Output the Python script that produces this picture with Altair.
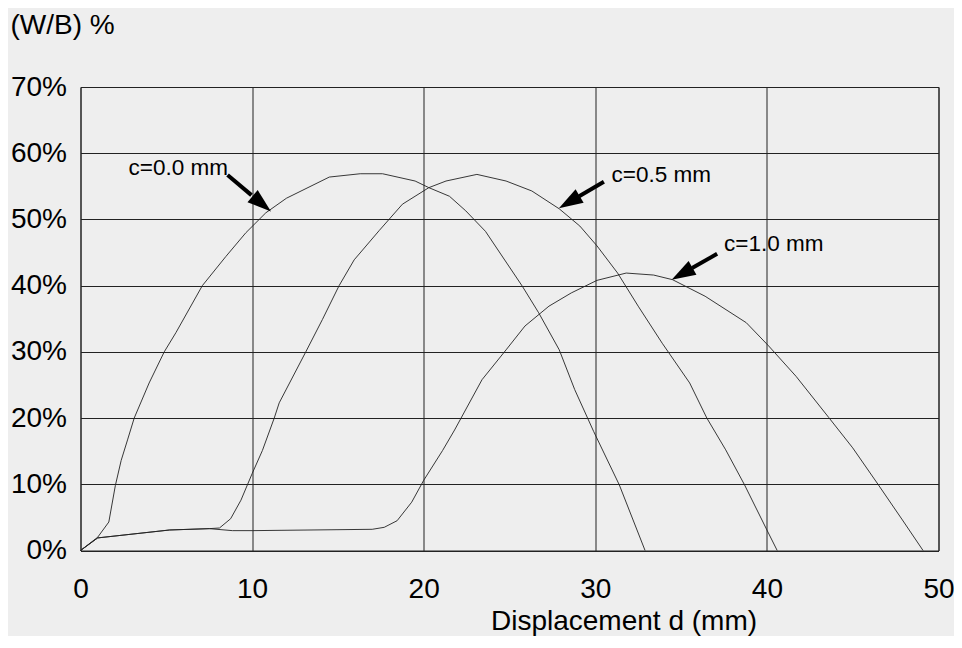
import math
import altair as alt
import pandas as pd

# ---- series data (displacement d in mm, W/B in %) ----
d_c00 = [0, 1.0, 1.65, 2.03, 2.37, 2.74, 3.13, 4.0, 4.88, 5.56, 7.1, 8.47, 9.64, 10.8, 12.0,
         14.5, 16.3, 17.6, 19.5, 20.3, 21.5, 22.45, 23.6, 25.75, 26.7, 27.9, 28.8, 29.9,
         31.4, 32.9]
p_c00 = [0, 2.0, 4.3, 9.8, 13.6, 16.7, 20.0, 25.3, 30.0, 32.9, 40.0, 44.4, 48.0, 51.0, 53.2,
         56.4, 56.9, 56.9, 55.8, 54.8, 53.5, 51.3, 48.2, 39.9, 35.9, 30.3, 24.3, 18.0,
         9.9, 0]

d_c05 = [0, 1.0, 5.2, 7.5, 8.1, 8.75, 9.35, 10.0, 10.6, 11.29, 11.58, 13.13, 14.1, 15.07,
         15.95, 17.4, 18.76, 20.3, 21.3, 23.1, 24.8, 26.3, 27.9, 29.1, 30.1, 31.3, 32.5,
         33.9, 35.5, 36.5, 37.6, 38.7, 40.0, 40.6]
p_c05 = [0, 1.9, 3.1, 3.3, 3.4, 4.8, 7.6, 11.6, 15.1, 20.0, 22.3, 30.0, 34.9, 40.0,
         43.9, 48.3, 52.3, 54.8, 55.8, 56.8, 55.8, 54.3, 51.6, 49.0, 46.0, 41.9, 36.9,
         31.3, 25.3, 20.0, 15.2, 9.9, 3.1, 0]

d_c10 = [0, 1.0, 5.2, 7.5, 8.85, 10.0, 17.0, 17.7, 18.45, 19.3, 20.0, 21.1, 21.8, 23.4,
         24.8, 25.9, 27.3, 28.6, 30.1, 31.8, 33.4, 34.5, 36.4, 38.8, 40.1, 41.7, 43.6,
         45.0, 46.5, 47.9, 49.1]
p_c10 = [0, 1.9, 3.1, 3.3, 3.0, 3.0, 3.2, 3.5, 4.5, 7.3, 10.6, 15.1, 18.2, 25.8,
         30.3, 33.9, 36.9, 38.9, 40.8, 41.9, 41.6, 40.9, 38.4, 34.4, 30.9, 26.3, 20.1,
         15.5, 9.9, 4.6, 0]

# ---- annotations ----
labels = ["c=0.0 mm", "c=0.5 mm", "c=1.0 mm"]
label_d = [2.8, 30.95, 37.5]
label_p = [57.7, 56.7, 46.25]
tail_d = [8.57, 30.5, 37.1]
tail_p = [56.7, 55.7, 44.8]
tip_d = [11.1, 27.88, 34.45]
tip_p = [51.2, 51.7, 40.9]

x_ticks = [0, 10, 20, 30, 40, 50]
y_ticks = [0, 10, 20, 30, 40, 50, 60, 70]

W, H = 858, 463.5
XMAX, YMAX = 50, 70
FONT = "Liberation Sans"

rows = []
for name, ds, ps in [("c=0.0", d_c00, p_c00), ("c=0.5", d_c05, p_c05), ("c=1.0", d_c10, p_c10)]:
    for i, (d, p) in enumerate(zip(ds, ps)):
        rows.append({"series": name, "d": d, "p": p, "i": i})
df = pd.DataFrame(rows)

sx, sy = W / XMAX, H / YMAX
arr_rows = []
for td, tp, hd, hp in zip(tail_d, tail_p, tip_d, tip_p):
    dx = (hd - td) * sx
    dy = -(hp - tp) * sy
    ang = math.degrees(math.atan2(dx, -dy)) % 360
    f = 0.55
    arr_rows.append({"td": td, "tp": tp, "ed": td + f * (hd - td), "ep": tp + f * (hp - tp),
                     "hd": hd, "hp": hp, "ang": ang})
adf = pd.DataFrame(arr_rows)
ldf = pd.DataFrame({"t": labels, "d": label_d, "p": label_p})

xscale = alt.Scale(domain=[0, XMAX], nice=False, zero=False)
yscale = alt.Scale(domain=[0, YMAX], nice=False, zero=False)

xaxis = alt.Axis(values=x_ticks, grid=True, gridColor="#222222", gridWidth=1, gridOpacity=1,
                 ticks=False, tickSize=0, domain=False, labelFont=FONT, labelFontSize=28,
                 labelColor="black", labelPadding=47, labelBaseline="alphabetic",
                 labelFlush=False, labelOverlap=False,
                 title="Displacement d (mm)", titleFont=FONT, titleFontSize=28,
                 titleFontWeight="normal", titleColor="black", titleX=543, titleY=79,
                 titleAlign="center", titleBaseline="alphabetic")
yaxis = alt.Axis(values=y_ticks, grid=True, gridColor="#222222", gridWidth=1, gridOpacity=1,
                 ticks=False, tickSize=0, domain=False, labelFont=FONT, labelFontSize=28,
                 labelColor="black", labelPadding=14, labelExpr="datum.value + '%'",
                 labelOverlap=False, labelFlush=False,
                 title="(W/B) %", titleFont=FONT, titleFontSize=28, titleFontWeight="normal",
                 titleColor="black", titleAngle=0, titleX=-70.5, titleY=-54,
                 titleAlign="left", titleBaseline="alphabetic")

lines = alt.Chart(df).mark_line(strokeWidth=0.9, color="#222222").encode(
    x=alt.X("d:Q", scale=xscale, axis=xaxis),
    y=alt.Y("p:Q", scale=yscale, axis=yaxis),
    detail="series:N",
    order="i:Q",
)

shafts = alt.Chart(adf).mark_rule(strokeWidth=4, color="black").encode(
    x=alt.X("td:Q", scale=xscale), y=alt.Y("tp:Q", scale=yscale),
    x2="ed:Q", y2="ep:Q",
)

heads = alt.Chart(adf).mark_point(shape="M0,0L-0.33,1L0.33,1Z", filled=True, size=2304,
                                  color="black", opacity=1, strokeWidth=0).encode(
    x=alt.X("hd:Q", scale=xscale), y=alt.Y("hp:Q", scale=yscale),
    angle=alt.Angle("ang:Q", scale=None),
)

texts = alt.Chart(ldf).mark_text(align="left", baseline="middle", font=FONT, fontSize=22.5,
                                 color="black").encode(
    x=alt.X("d:Q", scale=xscale), y=alt.Y("p:Q", scale=yscale), text="t:N",
)

chart = alt.layer(lines, shafts, heads, texts).properties(
    width=W, height=H,
    autosize=alt.AutoSizeParams(type="none"),
    padding={"left": 72.5, "top": 79, "right": 15.5, "bottom": 85},
    background="#eeeeee",
).configure_view(stroke="#222222", strokeWidth=1, fill="#eeeeee")

chart.save("out.html", embed_options={"renderer": "svg", "actions": False})
